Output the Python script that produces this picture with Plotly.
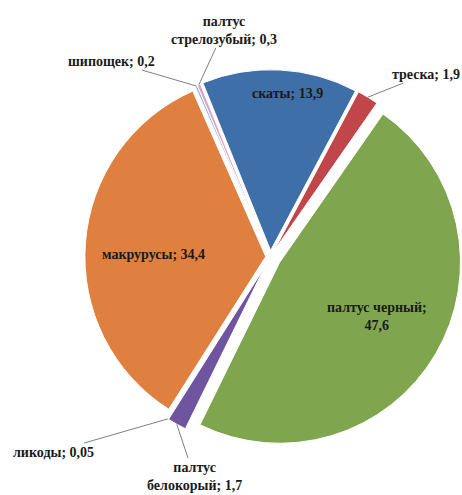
import math
import plotly.graph_objects as go

labels = ["скаты", "треска", "палтус черный", "палтус белокорый", "ликоды",
          "макрурусы", "шипощек", "палтус стрелозубый"]
values = [13.9, 1.9, 47.6, 1.7, 0.05, 34.4, 0.2, 0.3]
value_texts = ["13,9", "1,9", "47,6", "1,7", "0,05", "34,4", "0,2", "0,3"]
label_texts = ["скаты; ", "треска; ", "палтус черный;<br>", "палтус<br>белокорый; ",
               "ликоды; ", "макрурусы; ", "шипощек; ", "палтус<br>стрелозубый; "]

# styles / layout (not data)
colors = ["#3f6fa9", "#c0464a", "#7fa64e", "#6f55a0", "#4bacc6",
          "#e08040", "#8db0d8", "#d8a3c4"]
pulls = [0.035, 0.035, 0.06, 0.06, 0.06, 0.025, 0.03, 0.03]
rotation = -22
# label text centres in pixels, and whether a leader line is drawn
label_px = [(287, 93), (426, 74), (377, 316), (194, 476), (53, 452),
            (153, 254), (111, 61), (224, 30)]
leader = [False, True, False, True, True, False, True, True]

W, H = 462, 495
dom_x = [0.17, 1.0]
dom_y = [0.061, 0.901]

fig = go.Figure(go.Pie(
    labels=labels,
    values=values,
    textinfo="none",
    sort=False,
    direction="clockwise",
    rotation=rotation,
    pull=pulls,
    marker=dict(colors=colors, line=dict(color="white", width=1)),
    domain=dict(x=dom_x, y=dom_y),
    showlegend=False,
    hoverinfo="skip",
))

# pie geometry as plotly computes it
bx0, bx1 = dom_x[0] * W, dom_x[1] * W
by0, by1 = (1 - dom_y[1]) * H, (1 - dom_y[0]) * H
cx, cy = (bx0 + bx1) / 2, (by0 + by1) / 2
r = min(bx1 - bx0, by1 - by0) / (2 + 2 * max(pulls))
total = sum(values)

annotations = []
cum = 0.0
for i, v in enumerate(values):
    mid = math.radians(rotation + 360 * (cum + v / 2) / total)
    cum += v
    tx, ty = label_px[i]
    text = label_texts[i] + value_texts[i]
    font = dict(family="Liberation Serif", size=14, color="#1a1a1a", weight="bold")
    if leader[i]:
        d = r * (1 + pulls[i])
        px = cx + d * math.sin(mid)
        py = cy - d * math.cos(mid)
        annotations.append(dict(
            x=px / W, y=1 - py / H, xref="paper", yref="paper",
            ax=tx - px, ay=ty - py, axref="pixel", ayref="pixel",
            text=text, showarrow=True, arrowhead=0, arrowwidth=1,
            arrowcolor="#7f7f7f", standoff=0, font=font, align="center",
            xanchor="center", yanchor="middle",
        ))
    else:
        annotations.append(dict(
            x=tx / W, y=1 - ty / H, xref="paper", yref="paper",
            text=text, showarrow=False, font=font, align="center",
            xanchor="center", yanchor="middle",
        ))

fig.update_layout(
    width=W, height=H,
    margin=dict(l=0, r=0, t=0, b=0),
    paper_bgcolor="white",
    annotations=annotations,
    font=dict(family="Liberation Serif", size=14, color="#1a1a1a"),
)

fig.write_html("out.html", config={"displayModeBar": False},
               post_script="document.body.style.margin='0';")
